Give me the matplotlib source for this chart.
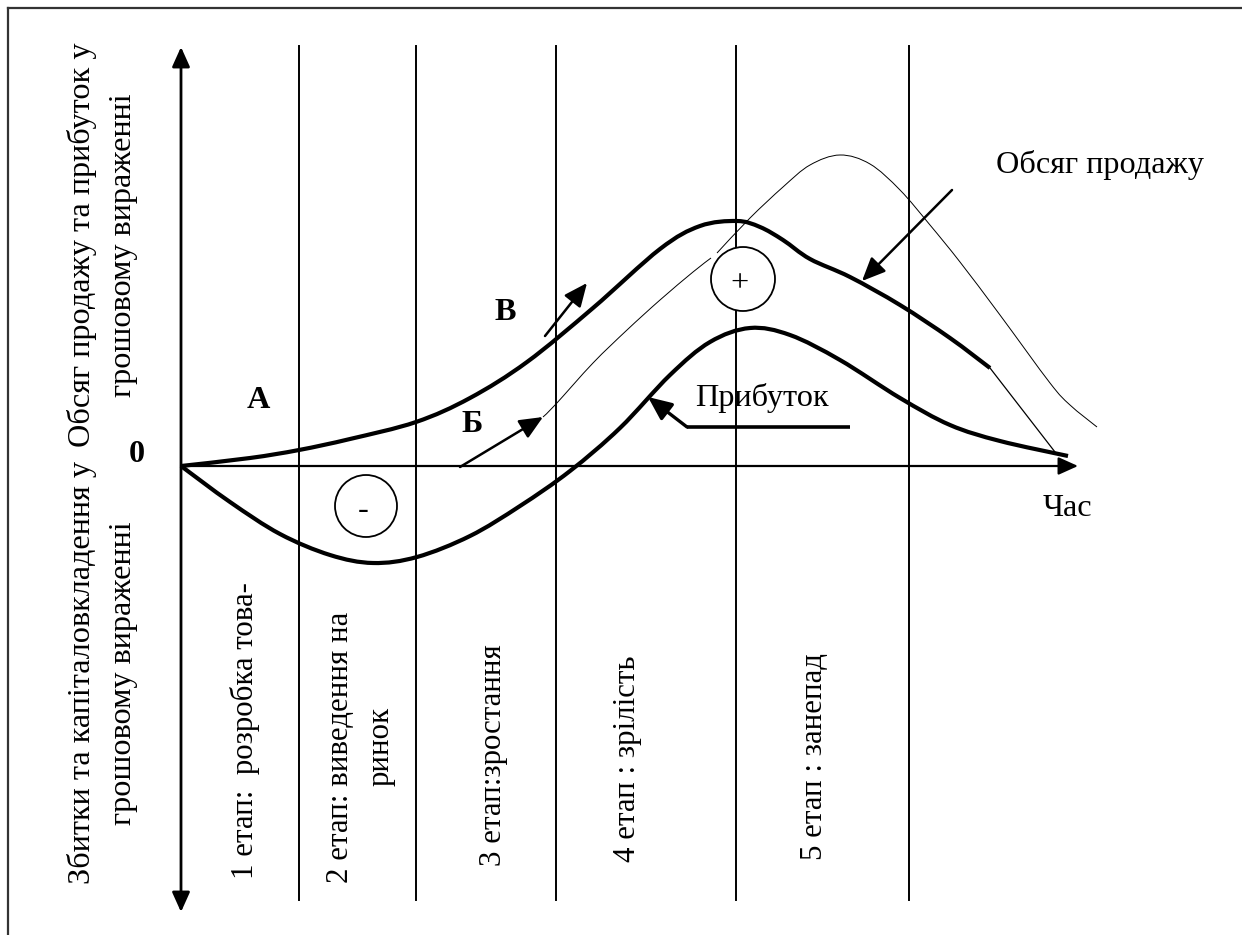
import matplotlib
matplotlib.use("Agg")
import matplotlib.pyplot as plt
from matplotlib.patches import Circle, PathPatch
from matplotlib.path import Path

plt.rcParams['font.family'] = ['Liberation Serif', 'DejaVu Serif']

# ---------------- data (pixel coordinates) ----------------
sales_x = [181, 250, 299, 350, 416, 470, 527, 593, 660, 700, 737, 760, 783, 810, 850, 900, 950, 990]
sales_y = [466, 458, 450, 439, 422, 398, 362, 308, 249, 226, 221, 227, 240, 259, 277, 305, 338, 368]
sales_tail_x = [990, 1055]
sales_tail_y = [368, 452]

profit_x = [181, 230, 280, 330, 373, 417, 470, 520, 570, 620, 670, 710, 750, 790, 840, 900, 950, 1000, 1068]
profit_y = [466, 502, 534, 555, 563, 557, 536, 506, 471, 428, 375, 342, 328, 335, 360, 398, 425, 441, 456]

thin1_x = [543, 556, 593, 627, 660, 693, 711]
thin1_y = [417, 404, 363, 330, 300, 272, 258]
thin2_x = [717, 750, 783, 810, 840, 870, 900, 930, 960, 1000, 1050, 1070, 1097]
thin2_y = [253, 218, 187, 165, 155, 164, 190, 225, 262, 315, 383, 405, 427]

stage_x = [299, 416, 556, 736, 909]
stage_top, stage_bottom = 46, 900

axis_origin = (181, 466)
axis_top, axis_bottom = 47, 912
axis_right = 1078

stage_labels = ["1 етап:  розробка това-", "2 етап: виведення на", "ринок",
                "3 етап:зростання", "4 етап : зрілість", "5 етап : занепад"]
stage_label_pos = [(245, 731), (340, 747), (381, 747), (493, 755), (627, 759), (815, 757)]

ylabel_texts = ["Обсяг продажу та прибуток у", "грошовому вираженні",
                "Збитки та капіталовкладення у", "грошовому вираженні"]
ylabel_pos = [(82, 245), (123, 245), (82, 673), (123, 673)]

letters = ["0", "А", "В", "Б"]
letter_pos = [(137, 455), (258, 401), (505, 312), (472, 425)]

# arrows: (start, tip)
arrow_v = ((545, 336), (587, 283))
arrow_b = ((460, 467), (543, 417))
arrow_profit = ((687, 427), (648, 397))
profit_line = ((687, 427), (850, 427))
arrow_sales = ((952, 190), (862, 281))

circles = [((366, 506), 31, "-"), ((743, 279), 32, "+")]

FS = 23.2
FS_STAGE = 22.2

# ---------------- drawing ----------------
fig = plt.figure(figsize=(12.42, 9.35), dpi=100)
ax = fig.add_axes([0, 0, 1, 1])
ax.set_xlim(0, 1242)
ax.set_ylim(935, 0)
ax.axis('off')


def smooth(xs, ys, lw, z=4):
    """Draw a smooth curve through the given points (Catmull-Rom rendered as Bezier)."""
    pts = list(zip(xs, ys))
    n = len(pts)
    verts = [pts[0]]
    codes = [Path.MOVETO]
    for i in range(n - 1):
        p0 = pts[i - 1] if i > 0 else pts[i]
        p1 = pts[i]
        p2 = pts[i + 1]
        p3 = pts[i + 2] if i + 2 < n else pts[i + 1]
        c1 = (p1[0] + (p2[0] - p0[0]) / 6, p1[1] + (p2[1] - p0[1]) / 6)
        c2 = (p2[0] - (p3[0] - p1[0]) / 6, p2[1] - (p3[1] - p1[1]) / 6)
        verts += [c1, c2, p2]
        codes += [Path.CURVE4] * 3
    ax.add_patch(PathPatch(Path(verts, codes), facecolor='none', edgecolor='black',
                           lw=lw, capstyle='butt', joinstyle='round', zorder=z))


# frame (left and top edges visible)
ax.plot([8, 8], [935, 8], color='#333333', lw=1.6, solid_capstyle='projecting')
ax.plot([8, 1242], [8, 8], color='#333333', lw=1.6, solid_capstyle='projecting')

# stage lines
for x in stage_x:
    ax.plot([x, x], [stage_top, stage_bottom], color='black', lw=1.4, zorder=2)

# axes with arrows
ax.annotate('', xy=(axis_origin[0], axis_top), xytext=(axis_origin[0], axis_bottom),
            arrowprops=dict(arrowstyle='<|-|>,head_length=0.8,head_width=0.36', lw=2.0,
                            color='black', shrinkA=0, shrinkB=0, mutation_scale=15), zorder=3)
ax.annotate('', xy=(axis_right, axis_origin[1]), xytext=axis_origin,
            arrowprops=dict(arrowstyle='-|>,head_length=0.8,head_width=0.36', lw=1.6,
                            color='black', shrinkA=0, shrinkB=0, mutation_scale=15), zorder=3)

# curves
smooth(sales_x, sales_y, 3.0)
ax.plot(sales_tail_x, sales_tail_y, color='black', lw=0.9, zorder=4)
smooth(profit_x, profit_y, 3.0)
smooth(thin1_x, thin1_y, 0.7)
smooth(thin2_x, thin2_y, 0.7)


# arrows
def arrow(start, tip, lw=1.8):
    ax.annotate('', xy=tip, xytext=start,
                arrowprops=dict(arrowstyle='-|>,head_length=0.95,head_width=0.42', lw=lw,
                                color='black', shrinkA=0, shrinkB=0, mutation_scale=15), zorder=5)


arrow(*arrow_v)
arrow(*arrow_b)
arrow(*arrow_profit, lw=2.4)
ax.plot([profit_line[0][0], profit_line[1][0]], [profit_line[0][1], profit_line[1][1]],
        color='black', lw=2.6, solid_capstyle='butt', zorder=5)
arrow(*arrow_sales)

# circles
for (cx, cy), r, sym in circles:
    ax.add_patch(Circle((cx, cy), r, facecolor='white', edgecolor='black', lw=1.3, zorder=6))
    ax.text(cx - 3, cy + 5, sym, fontsize=FS, ha='center', va='center', zorder=7)

# texts
for t, (x, y) in zip(stage_labels, stage_label_pos):
    ax.text(x, y, t, fontsize=FS_STAGE, rotation=90, rotation_mode='anchor', ha='center', va='center')
for t, (x, y) in zip(ylabel_texts, ylabel_pos):
    ax.text(x, y, t, fontsize=FS, rotation=90, rotation_mode='anchor', ha='center', va='center')
for t, (x, y) in zip(letters, letter_pos):
    ax.text(x, y, t, fontsize=FS, fontweight='bold', ha='center', va='center')

ax.text(762, 398, "Прибуток", fontsize=FS, ha='center', va='center', zorder=7)
ax.text(1100, 165, "Обсяг продажу", fontsize=FS, ha='center', va='center')
ax.text(1067, 508, "Час", fontsize=FS, ha='center', va='center')

fig.savefig("out.png", dpi=100)
